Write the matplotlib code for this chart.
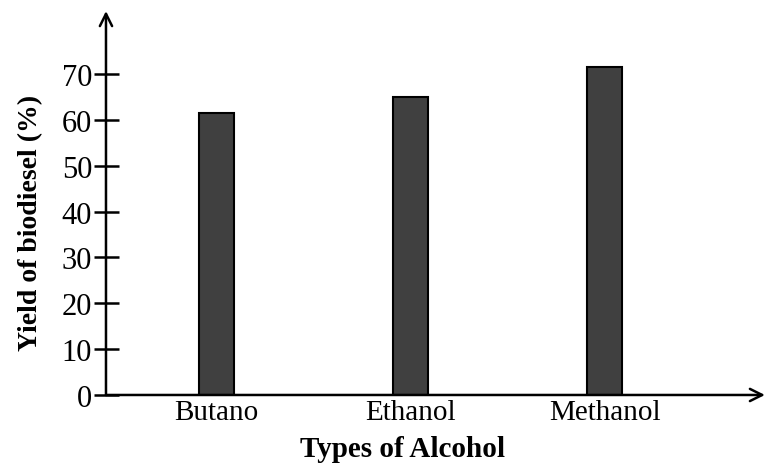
import matplotlib.pyplot as plt
import numpy as np

alcohols = ['Butano', 'Ethanol', 'Methanol']
yields = [61.5, 65.0, 71.6]
yticks = [0, 10, 20, 30, 40, 50, 60, 70]

plt.rcParams['font.family'] = 'Liberation Serif'

fig = plt.figure(figsize=(7.68, 4.64), dpi=100)
ax = fig.add_axes([0.138, 0.1466, 0.858, 0.8274])

x = np.arange(len(alcohols))
ax.bar(x, yields, width=0.18, color='#404040', edgecolor='black', linewidth=1.5, zorder=2)

ax.set_xlim(-0.566, 2.823)
ax.set_ylim(0, 83.7)

# only left and bottom axis lines, drawn as arrows
for s in ['top', 'right', 'left', 'bottom']:
    ax.spines[s].set_visible(False)
ax.annotate('', xy=(0, 1), xytext=(0, 0), xycoords='axes fraction',
            arrowprops=dict(arrowstyle='->', lw=1.8, color='black', mutation_scale=22, shrinkA=0, shrinkB=0))
ax.annotate('', xy=(1, 0), xytext=(0, 0), xycoords='axes fraction',
            arrowprops=dict(arrowstyle='->', lw=1.8, color='black', mutation_scale=22, shrinkA=0, shrinkB=0))

ax.set_yticks(yticks)
ax.tick_params(axis='y', direction='inout', length=18, width=1.8, labelsize=22, pad=1)
ax.set_xticks(x)
ax.set_xticklabels(alcohols)
ax.tick_params(axis='x', length=0, labelsize=21, pad=3)

ax.set_xlabel('Types of Alcohol', fontsize=21, fontweight='bold')
ax.xaxis.set_label_coords(0.45, -0.14)
ax.xaxis.label.set_va('center')
ax.set_ylabel('Yield of biodiesel (%)', fontsize=20, fontweight='bold')
ax.yaxis.set_label_coords(-0.115, 0.45)
ax.yaxis.label.set_va('center')

plt.savefig('out.png', dpi=100)
